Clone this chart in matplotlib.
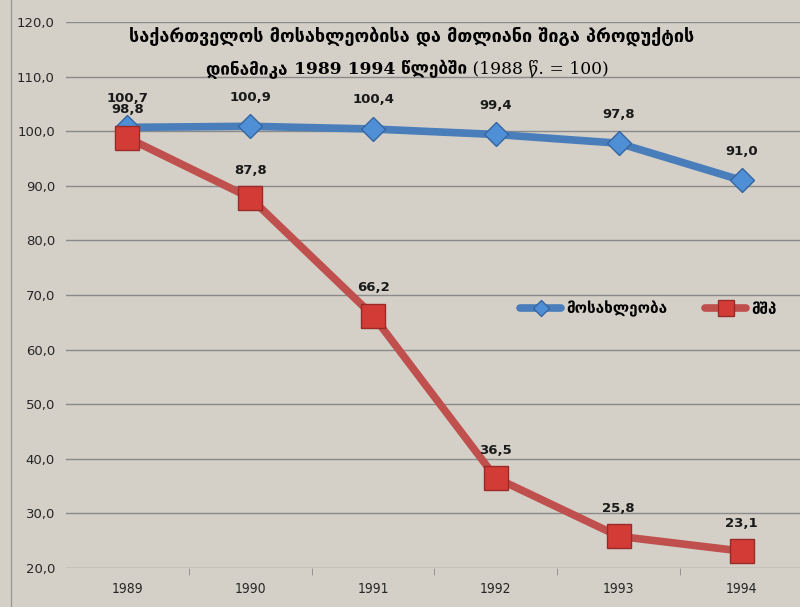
import numpy as np
import matplotlib
matplotlib.use("Agg")
import matplotlib.pyplot as plt

# --- data ---
years = ["1989", "1990", "1991", "1992", "1993", "1994"]
population = [100.7, 100.9, 100.4, 99.4, 97.8, 91.0]
gdp = [98.8, 87.8, 66.2, 36.5, 25.8, 23.1]
y_ticks = [20, 30, 40, 50, 60, 70, 80, 90, 100, 110, 120]

title_1 = "საქართველოს მოსახლეობისა და მთლიანი შიგა პროდუქტის"
# second title line in pieces: (text, family, weight)
title_2 = [("დინამიკა ", "DejaVu Sans", "bold"),
           ("1989 1994", "DejaVu Serif", "bold"),
           (" წლებში", "DejaVu Sans", "bold"),
           (" (1988 წ. = 100)", "DejaVu Serif", "normal")]
name_pop = "მოსახლეობა"
name_gdp = "მშპ"

bg = "#d4d0c8"
blue = "#4a7ebb"
red = "#c0504d"

plt.rcParams['font.family'] = ['DejaVu Sans']

fig = plt.figure(figsize=(8.0, 6.07), dpi=100, facecolor=bg)
ax = fig.add_axes([66 / 800, 39 / 607, 737 / 800, 546 / 607])
ax.set_facecolor(bg)

x = np.arange(len(years))

ax.plot(x, population, color=blue, lw=5.5, marker="D", ms=12,
        mfc="#4f8fd6", mec="#3565a0", mew=1, label=name_pop, zorder=3,
        solid_capstyle="round")
ax.plot(x, gdp, color=red, lw=5.5, marker="s", ms=17,
        mfc="#d23b36", mec="#9a2a27", mew=1, label=name_gdp, zorder=4,
        solid_capstyle="round")

def fmt(v):
    return f"{v:.1f}".replace(".", ",")

for xi, v in zip(x, population):
    ax.annotate(fmt(v), (xi, v), xytext=(0, 21), textcoords="offset points",
                ha="center", va="center", fontsize=9.5, fontweight="bold",
                color="#1a1a1a", zorder=6)
for xi, v in zip(x, gdp):
    ax.annotate(fmt(v), (xi, v), xytext=(0, 20), textcoords="offset points",
                ha="center", va="center", fontsize=9.5, fontweight="bold",
                color="#1a1a1a", zorder=6)

ax.set_xlim(-0.5, 5.5)
ax.set_ylim(20, 120)
ax.set_yticks(y_ticks)
ax.set_yticklabels([fmt(t) for t in y_ticks], fontsize=9.5, color="#262626")
ax.yaxis.grid(True, color="#8a8a8a", lw=1)
ax.set_axisbelow(True)
ax.tick_params(axis="y", length=0, pad=8)

ax.set_xticks(x)
ax.set_xticklabels(years, fontsize=10, color="#262626", fontstretch="condensed")
ax.set_xticks(np.arange(0.5, 5.0, 1.0), minor=True)
ax.tick_params(axis="x", which="major", length=0, pad=10)
ax.tick_params(axis="x", which="minor", length=5, color="#8a8a8a", direction="out")

for s in ax.spines.values():
    s.set_visible(False)

# chart border on the left
fig.add_artist(plt.Line2D([11 / 800, 11 / 800], [0, 1], color="#9a9a9a", lw=1))

# title, line 1
fig.text(412 / 800, 1 - 36 / 607, title_1, ha="center", va="center",
         fontsize=13, fontweight="bold", color="black")

# title, line 2: pieces placed one after another
fig.canvas.draw()
r = fig.canvas.get_renderer()
xpix = 206
for txt, fam, wt in title_2:
    t = fig.text(xpix / fig.bbox.width, 1 - 69 / 607, txt, fontsize=12.3,
                 family=fam, fontweight=wt, ha="left", va="center")
    xpix = t.get_window_extent(r).x1

leg = ax.legend(loc="center", bbox_to_anchor=(0.79, 0.474), ncol=2,
                frameon=False, fontsize=11, handlelength=2.7,
                markerscale=0.7, columnspacing=2.5, handletextpad=0.3)
for t in leg.get_texts():
    t.set_fontweight("bold")

fig.savefig("out.png", dpi=100, facecolor=bg)
